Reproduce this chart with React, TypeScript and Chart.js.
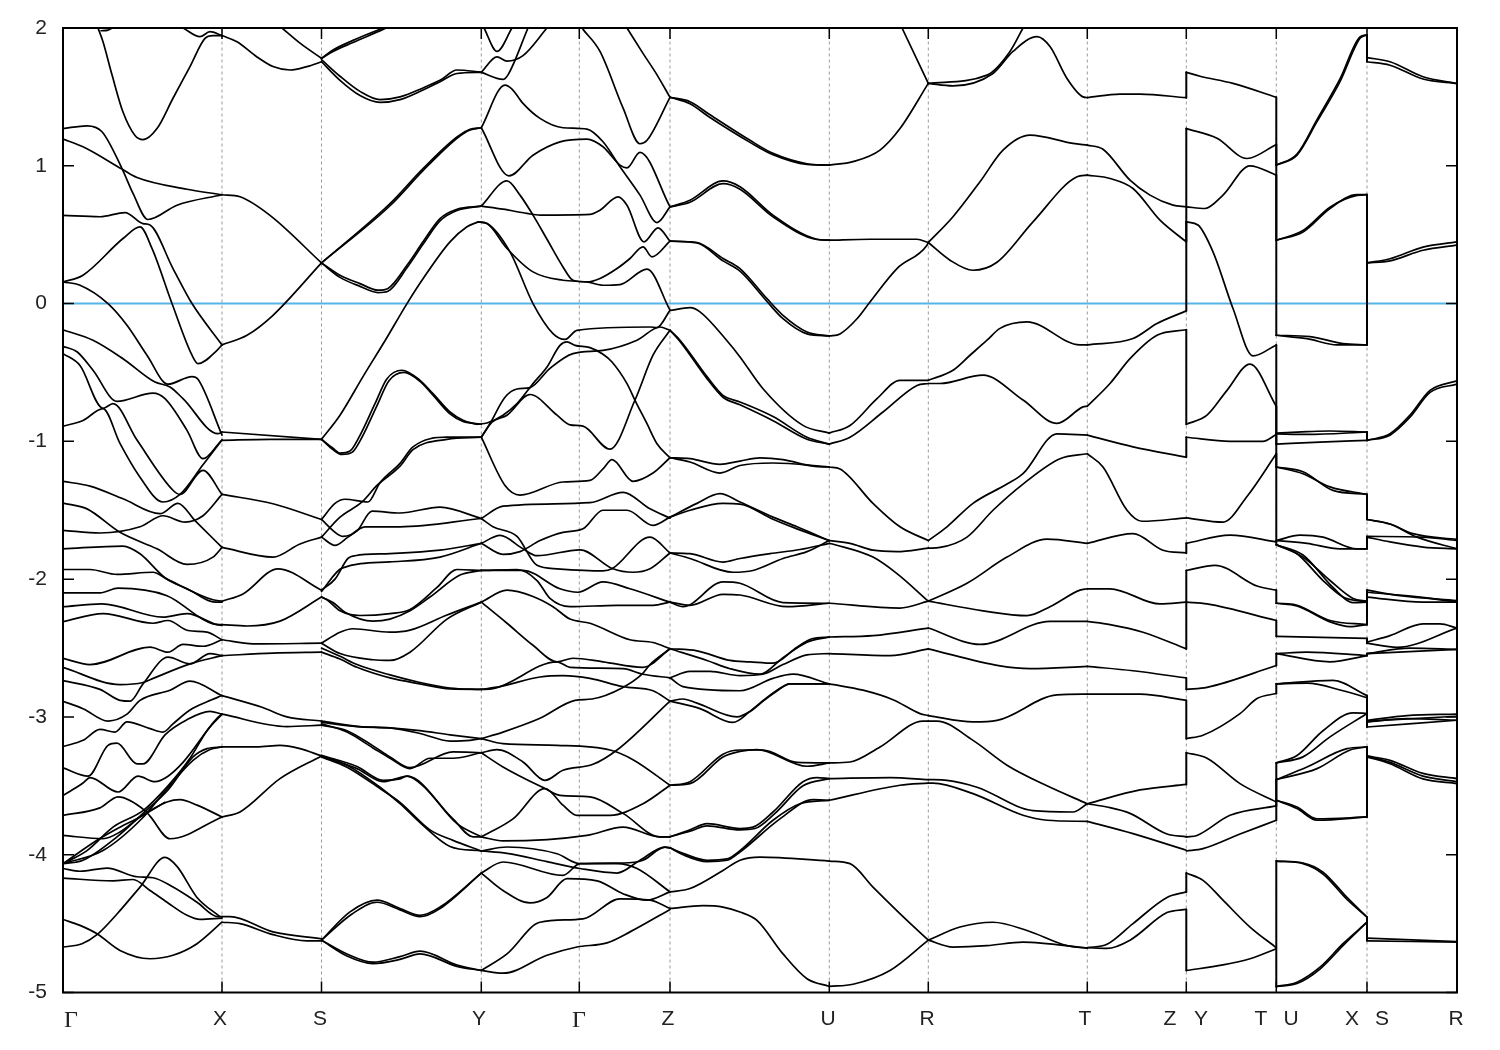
import React, { useEffect, useRef } from "react";
import { Chart, registerables } from "chart.js";

Chart.register(...registerables);

// Every curve is a flat list: pathPosition, energy, pathPosition, energy ...
const pathMin = 63;
const pathMax = 1457;
const energyMin = -5;
const energyMax = 2;

const symmetryPoints = [222, 321.5, 481.3, 579.3, 670, 829.3, 928.3, 1087.3, 1186.3, 1276.3, 1367];
const labelPositions = [71, 220, 320, 479, 579, 668, 828, 927, 1085, 1170, 1201, 1261, 1291, 1352, 1382, 1456];
const labelNames = ["Γ", "X", "S", "Y", "Γ", "Z", "U", "R", "T", "Z", "Y", "T", "U", "X", "S", "R"];
const serifLabelIndexes = [0, 4];

const bandsGammaX: number[][] = [
  [98,2,103,1.9,112,1.66,123,1.39,135,1.22,143,1.19,157,1.27,173,1.49,190,1.72,205,1.925,213,1.945,222,1.945],
  [101,1.98,108,1.985,115,2.01],
  [183,2,200,1.937,210,1.973,222,1.945],
  [63,1.27,87,1.29,102,1.247,122,.98,133,.8,148,.61,177,.714,222,.79],
  [63,1.194,83,1.138,122,.976,137,.915,187,.83,222,.79],
  [63,.64,100,.63,125,.66,143,.58,150,.57,173,.254,192,0,222,-.3],
  [63,.157,83,.206,123,.472,140,.557,152,.4,172,0,192,-.375,198,-.436,217,-.34,222,-.3],
  [63,.157,80,.133,108,0,127,-.157,147,-.375,168,-.585,192,-.53,198,-.55,222,-.955],
  [63,-.19,93,-.266,123,-.4,155,-.57,170,-.605,183,-.69,218,-.944,222,-.932],
  [63,-.31,77,-.35,93,-.484,117,-.71,153,-.65,165,-.69,187,-.92,203,-1.126,220,-1.005,222,-.99],
  [63,-.363,80,-.45,103,-.76,113,-.726,137,-.99,173,-1.355,180,-1.385,203,-1.21,222,-1.385],
  [63,-.89,83,-.848,103,-.763,120,-1.015,140,-1.26,163,-1.44,180,-1.385,203,-1.17,222,-.99],
  [63,-1.29,90,-1.325,123,-1.417,160,-1.525,178,-1.45,195,-1.575,222,-1.77],
  [63,-1.448,87,-1.49,120,-1.66,157,-1.78,187,-1.893,213,-1.84,222,-1.77],
  [63,-1.646,100,-1.665,140,-1.62,163,-1.54,185,-1.586,203,-1.54,222,-1.385],
  [63,-1.78,123,-1.76,140,-1.816,165,-1.99,190,-2.08,213,-2.165,222,-2.167],
  [63,-1.93,90,-1.93,117,-1.966,153,-1.95,167,-2,213,-2.15,222,-2.16],
  [63,-2.1,100,-2.1,118,-2.065,167,-2.12,213,-2.325,222,-2.33],
  [63,-2.2,102,-2.18,163,-2.276,187,-2.25,217,-2.33,222,-2.335],
  [63,-2.308,103,-2.25,153,-2.32,168,-2.3,188,-2.373,207,-2.385,222,-2.44],
  [63,-2.575,90,-2.62,150,-2.494,168,-2.53,183,-2.474,203,-2.487,222,-2.44],
  [63,-2.64,120,-2.765,143,-2.75,150,-2.73,190,-2.615,222,-2.555],
  [63,-2.736,100,-2.8,120,-2.88,130,-2.886,143,-2.76,168,-2.566,190,-2.615,210,-2.54,222,-2.555],
  [63,-2.886,83,-2.94,108,-3.03,127,-2.98,140,-2.88,170,-2.806,190,-2.74,222,-2.845],
  [63,-3.215,83,-3.17,100,-3.09,115,-3.11,127,-3.036,150,-3.085,163,-3.11,173,-3.05,190,-2.95,207,-2.89,222,-2.845],
  [63,-3.37,88,-3.43,108,-3.206,117,-3.19,137,-3.34,143,-3.34,165,-3.13,187,-3.02,210,-2.96,222,-2.98],
  [63,-3.57,83,-3.48,90,-3.44,118,-3.545,138,-3.43,155,-3.47,168,-3.43,183,-3.33,217,-3.01,222,-2.98],
  [63,-3.714,100,-3.66,118,-3.58,145,-3.68,150,-3.72,170,-3.884,222,-3.726],
  [63,-3.86,103,-3.884,120,-3.835,140,-3.726,167,-3.617,180,-3.6,197,-3.64,222,-3.726],
  [63,-4.065,103,-3.97,143,-3.73,163,-3.557,193,-3.315,210,-3.237,222,-3.218],
  [63,-4.065,83,-4.04,117,-3.87,143,-3.7,168,-3.53,193,-3.29,207,-3.23,222,-3.218],
  [63,-4.065,87,-3.97,113,-3.8,143,-3.68,168,-3.5,190,-3.3,207,-3.1,222,-2.98],
  [63,-4.065,97,-3.895,120,-3.8,140,-3.726,165,-3.62],
  [63,-4.1,80,-4.12,107,-4.097,137,-4.16,153,-4.167,173,-4.235,197,-4.345,218,-4.45,222,-4.45],
  [63,-4.17,113,-4.19,133,-4.18,150,-4.26,167,-4.345,187,-4.44,200,-4.47,222,-4.46],
  [63,-4.47,80,-4.513,97,-4.574,120,-4.695,150,-4.755,173,-4.73,197,-4.646,222,-4.49],
  [63,-4.67,82,-4.646,97,-4.58,117,-4.43,140,-4.235,165,-4.02,177,-4.085,197,-4.31,220,-4.45],
];

const bandsXS: number[][] = [
  [222,1.945,237,1.9,257,1.79,273,1.72,290,1.695,307,1.72,321.5,1.755],
  [282,2,300,1.89,321.5,1.78],
  [222,.79,240,.775,270,.64,321.5,.295],
  [222,-.3,247,-.23,273,-.085,321.5,.295],
  [222,-.932,321.5,-.985],
  [222,-.993,270,-.985,321.5,-.985],
  [222,-1.385,273,-1.453,321.5,-1.567],
  [222,-1.77,273,-1.84,300,-1.745,321.5,-1.695],
  [222,-2.16,243,-2.107,278,-1.925,321.5,-2.08],
  [222,-2.33,247,-2.34,280,-2.305,321.5,-2.13],
  [222,-2.44,253,-2.47,321.5,-2.465],
  [222,-2.555,273,-2.537,321.5,-2.53],
  [222,-2.845,262,-2.93,287,-3,321.5,-3.03],
  [222,-2.98,287,-3.07,321.5,-3.06],
  [222,-3.218,257,-3.218,280,-3.206,300,-3.23,321.5,-3.283],
  [222,-3.726,240,-3.69,280,-3.448,321.5,-3.283],
  [222,-4.45,230,-4.45,273,-4.56,321.5,-4.61],
  [222,-4.49,240,-4.5,273,-4.58,307,-4.625,321.5,-4.625],
];

const bandsSY: number[][] = [
  [321.5,1.78,333,1.84,353,1.91,383,2],
  [321.5,1.78,333,1.83,353,1.895,383,1.99,395,2.03],
  [321.5,1.77,340,1.65,360,1.54,380,1.48,400,1.5,423,1.565,440,1.62,457,1.695,481.3,1.68],
  [321.5,1.755,340,1.62,360,1.51,380,1.46,400,1.48,423,1.55,440,1.61,457,1.67,481.3,1.678],
  [321.5,.295,390,.726,423,.98,457,1.21,470,1.264,481.3,1.276],
  [321.5,.295,390,.71,423,.965,457,1.2,470,1.26,481.3,1.276],
  [321.5,.295,340,.206,360,.145,378,.097,388,.11,407,.278,423,.448,440,.617,457,.685,481.3,.707],
  [321.5,.295,340,.19,360,.125,378,.08,388,.09,407,.26,423,.43,440,.6,457,.675,481.3,.707],
  [321.5,-.985,340,-.81,363,-.53,385,-.27,407,0,423,.18,450,.448,467,.557,478,.593],
  [321.5,-.985,333,-1.05,340,-1.085,350,-1.07,360,-.956,375,-.726,387,-.545,402,-.484,420,-.557,433,-.654,450,-.787,463,-.847,477,-.876],
  [321.5,-.985,333,-1.06,342,-1.095,352,-1.08,362,-.97,377,-.74,389,-.56,404,-.5,420,-.565,433,-.665,450,-.8,463,-.855,481.3,-.876],
  [321.5,-1.567,335,-1.45,345,-1.42,368,-1.44,380,-1.3,400,-1.16,413,-1.04,447,-.97,481.3,-.97],
  [321.5,-1.695,340,-1.55,362,-1.44,377,-1.32,400,-1.18,413,-1.06,447,-.985,481.3,-.97],
  [321.5,-1.567,335,-1.66,343,-1.69,357,-1.65,372,-1.506,400,-1.52,440,-1.477,481.3,-1.56],
  [321.5,-1.695,335,-1.755,348,-1.695,365,-1.62,400,-1.62,481.3,-1.56],
  [321.5,-2.08,335,-2,348,-1.85,355,-1.83,390,-1.815,440,-1.79,481.3,-1.74],
  [321.5,-2.09,342,-1.92,390,-1.875,440,-1.84,481.3,-1.74],
  [321.5,-2.13,327,-2.15,340,-2.23,360,-2.264,390,-2.25,410,-2.22,437,-2.06,457,-1.93,481.3,-1.937],
  [321.5,-2.13,333,-2.17,345,-2.24,373,-2.305,390,-2.29,410,-2.23,430,-2.13,460,-1.97,481.3,-1.937],
  [321.5,-2.465,340,-2.385,353,-2.36,390,-2.385,410,-2.37,447,-2.26,481.3,-2.167],
  [321.5,-2.465,340,-2.54,373,-2.585,390,-2.59,410,-2.53,447,-2.29,481.3,-2.167],
  [321.5,-2.53,340,-2.58,357,-2.64,390,-2.717,420,-2.76,450,-2.797,481.3,-2.8],
  [321.5,-2.5,340,-2.56,357,-2.62,390,-2.695,420,-2.75,450,-2.79,481.3,-2.8],
  [321.5,-3.04,357,-3.07,390,-3.08,420,-3.1,450,-3.13,481.3,-3.157],
  [321.5,-3.03,360,-3.07,390,-3.08,420,-3.12,450,-3.175,470,-3.17,481.3,-3.157],
  [321.5,-3.06,347,-3.1,373,-3.21,390,-3.29,410,-3.368,453,-3.254,481.3,-3.26],
  [321.5,-3.05,347,-3.11,373,-3.225,390,-3.3,410,-3.375,430,-3.3,453,-3.3,481.3,-3.26],
  [321.5,-3.278,357,-3.36,383,-3.46,400,-3.45,407,-3.43,423,-3.5,457,-3.775,481.3,-3.87],
  [321.5,-3.283,357,-3.375,383,-3.47,400,-3.44,407,-3.43,453,-3.74,473,-3.87,481.3,-3.87],
  [321.5,-3.283,347,-3.35,380,-3.51,400,-3.63,423,-3.787,450,-3.94,481.3,-3.973],
  [321.5,-3.29,347,-3.365,380,-3.52,400,-3.62,430,-3.82,453,-3.896,481.3,-3.973],
  [321.5,-4.62,350,-4.415,377,-4.33,400,-4.39,420,-4.44,440,-4.38,481.3,-4.133],
  [321.5,-4.62,352,-4.43,377,-4.345,400,-4.4,420,-4.45,440,-4.39,481.3,-4.133],
  [321.5,-4.62,347,-4.72,373,-4.78,400,-4.74,420,-4.7,457,-4.8,481.3,-4.84],
  [321.5,-4.62,347,-4.735,373,-4.79,400,-4.76,420,-4.72,457,-4.81,481.3,-4.84],
];

const bandsYGammaZ: number[][] = [
  [481.3,1.678,497,1.79,507,1.76,523,1.8,547,2],
  [481.3,1.678,503,1.627,508,1.66,528,2],
  [484,2,497,1.83,512,2],
  [583,1.99,600,1.83,623,1.42,640,1.16,647,1.185,670,1.497],
  [627,2,643,1.816,657,1.66,670,1.497],
  [481.3,1.276,505,1.586,512,1.557,523,1.453,540,1.344,563,1.276,587,1.266,603,1.174,620,.993,640,.787,657,.588,670,.702],
  [481.3,1.276,509,.927,533,1.077,560,1.174,587,1.194,603,1.138,620,1.005,627,.985,640,1.097,670,.702],
  [481.3,.707,507,.891,520,.787,533,.642,547,.467,563,.266,573,.169,587,.157,600,.182,617,.254,630,.327,643,.412,652,.339,670,.453],
  [481.3,.707,503,.685,527,.654,540,.642,590,.647,600,.678,618,.775,627,.714,644,.448,658,.55,670,.453],
  [478,.593,487,.581,507,.4,533,.23,563,.169,587,.157,603,.133,620,.138,647,.25,670,-.048],
  [478,.593,487,.581,510,.375,533,0,553,-.218,565,-.26,577,-.194,650,-.17,657,-.174,670,-.048],
  [477,-.876,487,-.867,503,-.81,517,-.726,533,-.581,547,-.46,560,-.303,567,-.278,575,-.303,590,-.32,603,-.368,612,-.424,627,-.581,635,-.702,647,-.872,657,-1.017,670,-1.119],
  [481.3,-.97,492,-.86,507,-.81,530,-.66,557,-.81,570,-.88,583,-.89,610,-1.057,635,-.7,653,-.375,670,-.194],
  [481.3,-.97,490,-.87,505,-.68,517,-.62,530,-.61,550,-.47,573,-.363,603,-.34,637,-.266,660,-.17,670,-.194],
  [481.3,-.97,505,-1.32,520,-1.39,563,-1.295,590,-1.283,603,-1.2,612,-1.133,633,-1.29,653,-1.23,670,-1.119],
  [481.3,-1.56,503,-1.47,590,-1.445,623,-1.37,650,-1.49,670,-1.557],
  [481.3,-1.56,493,-1.62,517,-1.69,537,-1.9,557,-1.925,603,-1.94,612,-1.925,650,-1.695,670,-1.81],
  [481.3,-1.74,500,-1.683,523,-1.78,537,-1.83,580,-1.787,613,-1.925,633,-1.95,650,-1.925,670,-1.81],
  [481.3,-1.74,503,-1.82,520,-1.8,540,-1.72,563,-1.66,583,-1.635,603,-1.5,627,-1.5,653,-1.61,670,-1.55],
  [481.3,-1.937,517,-1.93,537,-2.01,550,-2.14,570,-2.2,617,-2.19,653,-2.19,670,-2.167],
  [481.3,-1.937,523,-1.937,560,-2.07,578,-2.095,603,-2.02,630,-2.07,670,-2.167],
  [481.3,-2.167,507,-2.08,533,-2.126,553,-2.2,570,-2.29,590,-2.32,630,-2.44,653,-2.46,670,-2.505],
  [481.3,-2.167,507,-2.32,533,-2.48,557,-2.6,573,-2.574,603,-2.6,643,-2.64,670,-2.505],
  [481.3,-2.8,493,-2.795,557,-2.6,570,-2.64,623,-2.65,643,-2.69,670,-2.716],
  [481.3,-2.8,500,-2.78,540,-2.71,563,-2.7,590,-2.72,623,-2.78,653,-2.81,670,-2.885],
  [481.3,-3.157,503,-3.11,540,-3.01,575,-2.88,592,-2.87,622,-2.79,642,-2.69,650,-2.62,670,-2.505],
  [481.3,-3.157,503,-3.194,557,-3.206,610,-3.24,633,-3.31,670,-3.496],
  [481.3,-3.26,497,-3.237,523,-3.327,545,-3.46,563,-3.387,593,-3.344,617,-3.24,670,-2.885],
  [481.3,-3.26,503,-3.363,545,-3.52,560,-3.57,590,-3.58,623,-3.7,660,-3.87,670,-3.87],
  [481.3,-3.87,513,-3.74,545,-3.52,563,-3.64,577,-3.714,610,-3.714,643,-3.63,670,-3.496],
  [481.3,-3.87,503,-3.9,587,-3.86,623,-3.8,660,-3.87,670,-3.87],
  [481.3,-3.973,507,-3.944,557,-3.993,580,-4.065,617,-4.065,637,-4.1,670,-4.27],
  [481.3,-3.973,507,-3.99,547,-4.05,580,-4.1,617,-4.133,640,-4.04,665,-3.945,670,-3.95],
  [481.3,-4.133,503,-4.053,563,-4.15,580,-4.065,623,-4.06,643,-4.04,665,-3.945,670,-3.95],
  [481.3,-4.133,503,-4.26,530,-4.35,547,-4.31,567,-4.174,597,-4.19,623,-4.283,647,-4.33,670,-4.27],
  [481.3,-4.84,507,-4.72,540,-4.49,583,-4.465,620,-4.32,650,-4.33,670,-4.39],
  [481.3,-4.84,503,-4.86,547,-4.73,577,-4.67,607,-4.64,630,-4.56,670,-4.397],
];

const bandsZU: number[][] = [
  [670,1.497,690,1.465,710,1.37,750,1.185,773,1.09,807,1.015,829.3,1.005],
  [670,1.497,690,1.45,710,1.35,750,1.17,773,1.08,807,1.01,829.3,1.005],
  [670,.702,690,.75,723,.89,740,.848,773,.642,817,.467,829.3,.46],
  [670,.702,690,.735,723,.87,740,.83,773,.63,817,.465,829.3,.46],
  [670,.453,697,.443,723,.327,740,.254,767,.036,783,-.085,807,-.206,829.3,-.235],
  [670,.453,697,.44,723,.31,740,.235,767,.015,783,-.11,807,-.22,829.3,-.235],
  [670,-.05,690,-.03,700,-.06,727,-.27,740,-.387,763,-.618,803,-.884,829.3,-.94],
  [670,-.194,680,-.266,707,-.53,723,-.666,740,-.714,773,-.82,807,-.97,829.3,-1.02],
  [670,-.194,680,-.275,707,-.545,723,-.68,740,-.735,773,-.85,807,-.985,829.3,-1.02],
  [670,-1.119,690,-1.126,720,-1.167,740,-1.143,760,-1.12,783,-1.133,813,-1.18,829.3,-1.186],
  [670,-1.119,690,-1.15,720,-1.23,740,-1.175,773,-1.157,829.3,-1.186],
  [670,-1.55,697,-1.45,720,-1.38,740,-1.44,773,-1.55,797,-1.62,829.3,-1.72],
  [670,-1.55,690,-1.5,723,-1.45,740,-1.455,773,-1.565,797,-1.635,829.3,-1.72],
  [670,-1.81,690,-1.815,723,-1.876,740,-1.85,770,-1.815,800,-1.785,829.3,-1.74],
  [670,-1.81,690,-1.85,733,-1.95,753,-1.937,783,-1.85,807,-1.8,829.3,-1.72],
  [670,-2.167,683,-2.2,723,-2.02,740,-2.03,783,-2.17,829.3,-2.175],
  [670,-2.167,690,-2.19,723,-2.11,740,-2.115,787,-2.2,829.3,-2.175],
  [670,-2.505,697,-2.52,730,-2.59,750,-2.6,773,-2.61,797,-2.494,812,-2.433,829.3,-2.42],
  [670,-2.505,707,-2.59,730,-2.65,760,-2.69,783,-2.57,807,-2.457,829.3,-2.42],
  [670,-2.716,690,-2.67,710,-2.67,740,-2.7,763,-2.69,783,-2.62,807,-2.55,829.3,-2.54],
  [670,-2.716,683,-2.78,740,-2.81,773,-2.72,793,-2.69,829.3,-2.76],
  [670,-2.885,683,-2.87,697,-2.9,737,-3,750,-2.96,764,-2.88,778,-2.806,790,-2.76,829.3,-2.76],
  [670,-2.885,700,-2.94,733,-3.04,750,-2.96,760,-2.9,777,-2.806,790,-2.76,829.3,-2.76],
  [670,-3.496,690,-3.484,723,-3.29,740,-3.25,757,-3.237,807,-3.358,829.3,-3.334],
  [670,-3.496,690,-3.47,723,-3.27,740,-3.24,763,-3.24,797,-3.33,829.3,-3.334],
  [670,-3.87,690,-3.82,707,-3.775,740,-3.81,753,-3.8,773,-3.69,803,-3.47,817,-3.44,829.3,-3.448],
  [670,-3.87,690,-3.83,707,-3.79,740,-3.82,755,-3.81,775,-3.7,803,-3.5,829.3,-3.448],
  [670,-3.95,683,-3.99,707,-4.04,727,-4.03,740,-3.97,773,-3.75,800,-3.63,829.3,-3.605],
  [670,-3.95,683,-4,707,-4.05,727,-4.04,740,-3.98,780,-3.74,813,-3.6,829.3,-3.605],
  [670,-4.27,690,-4.245,723,-4.114,740,-4.04,760,-4.017,829.3,-4.046],
  [670,-4.39,703,-4.37,723,-4.38,740,-4.416,757,-4.477,783,-4.72,807,-4.9,829.3,-4.956],
];

const bandsUR: number[][] = [
  [829.3,1.005,853,1.03,880,1.114,900,1.27,928.3,1.598],
  [902,2,928.3,1.598],
  [829.3,.46,870,.467,917,.467,928.3,.443],
  [829.3,-.235,840,-.22,857,-.11,870,.012,897,.254,927,.424,928.3,.443],
  [829.3,-.94,850,-.885,877,-.69,900,-.557,928.3,-.557],
  [829.3,-1.02,850,-.97,883,-.787,917,-.594,928.3,-.58],
  [829.3,-1.186,840,-1.2,873,-1.45,900,-1.62,928.3,-1.72],
  [829.3,-1.72,850,-1.74,873,-1.79,897,-1.8,928.3,-1.775],
  [829.3,-1.74,835,-1.75,873,-1.84,897,-1.96,928.3,-2.16],
  [829.3,-2.175,900,-2.21,928.3,-2.16],
  [829.3,-2.42,873,-2.41,928.3,-2.355],
  [829.3,-2.54,890,-2.555,928.3,-2.506],
  [829.3,-2.76,863,-2.806,893,-2.875,920,-2.976,928.3,-2.99],
  [829.3,-3.334,850,-3.327,880,-3.218,923,-3.03,928.3,-3.03],
  [829.3,-3.448,890,-3.44,928.3,-3.455],
  [829.3,-3.605,900,-3.496,928.3,-3.48],
  [829.3,-4.046,850,-4.065,873,-4.235,907,-4.477,928.3,-4.62],
  [829.3,-4.956,853,-4.94,890,-4.84,928.3,-4.62],
];

const bandsRT: number[][] = [
  [928.3,1.598,987,1.658,1010,1.83,1023,2],
  [928.3,1.598,953,1.58,993,1.67,1013,1.83,1037,1.937,1050,1.865,1067,1.634,1083,1.5,1087.3,1.495],
  [928.3,.443,953,.63,980,.884,1003,1.114,1030,1.223,1073,1.162,1087.3,1.15],
  [928.3,.443,950,.315,973,.242,997,.3,1033,.593,1077,.92,1087.3,.932],
  [928.3,-.557,953,-.484,970,-.375,987,-.266,1000,-.18,1027,-.133,1080,-.3,1087.3,-.3],
  [928.3,-.58,940,-.58,983,-.52,1023,-.7,1057,-.87,1083,-.75,1087.3,-.745],
  [928.3,-1.72,947,-1.62,973,-1.45,1007,-1.31,1023,-1.235,1057,-.945,1087.3,-.955],
  [928.3,-1.775,940,-1.77,967,-1.695,993,-1.5,1023,-1.31,1060,-1.126,1087.3,-1.09],
  [928.3,-2.16,967,-2.03,1007,-1.84,1047,-1.71,1087.3,-1.74],
  [928.3,-2.16,983,-2.23,1027,-2.265,1050,-2.2,1080,-2.08,1087.3,-2.07],
  [928.3,-2.355,980,-2.474,1050,-2.307,1087.3,-2.307],
  [928.3,-2.506,1000,-2.63,1030,-2.65,1087.3,-2.633],
  [928.3,-2.99,973,-3.036,997,-3.025,1057,-2.84,1087.3,-2.835],
  [928.3,-3.03,937,-3.03,973,-3.17,1007,-3.35,1047,-3.5,1087.3,-3.63],
  [928.3,-3.455,947,-3.46,977,-3.51,1033,-3.68,1073,-3.69,1087.3,-3.63],
  [928.3,-3.48,933,-3.48,973,-3.557,1023,-3.714,1047,-3.75,1087.3,-3.758],
  [928.3,-4.62,953,-4.67,987,-4.66,1023,-4.634,1087.3,-4.678],
  [928.3,-4.62,960,-4.525,993,-4.49,1027,-4.55,1067,-4.66,1087.3,-4.678],
];

const bandsTZ: number[][] = [
  [1087.3,1.495,1120,1.52,1140,1.52,1186.3,1.494],
  [1087.3,1.15,1103,1.12,1130,.896,1150,.787,1173,.714,1186.3,.702],
  [1087.3,.932,1110,.908,1133,.835,1160,.605,1186.3,.448],
  [1087.3,-.3,1133,-.254,1157,-.145,1186.3,-.053],
  [1087.3,-.745,1110,-.58,1130,-.4,1157,-.23,1186.3,-.19],
  [1087.3,-.955,1133,-1.04,1186.3,-1.114],
  [1087.3,-1.09,1103,-1.186,1127,-1.5,1142,-1.58,1186.3,-1.555],
  [1087.3,-1.74,1133,-1.67,1163,-1.79,1186.3,-1.81],
  [1087.3,-2.07,1110,-2.07,1160,-2.18,1186.3,-2.167],
  [1087.3,-2.307,1110,-2.33,1143,-2.385,1186.3,-2.506],
  [1087.3,-2.633,1133,-2.665,1186.3,-2.717],
  [1087.3,-2.835,1140,-2.835,1186.3,-2.88],
  [1087.3,-3.63,1140,-3.53,1186.3,-3.49],
  [1087.3,-3.63,1107,-3.654,1130,-3.7,1167,-3.85,1186.3,-3.87],
  [1087.3,-3.758,1133,-3.847,1186.3,-3.968],
  [1087.3,-4.675,1107,-4.65,1133,-4.5,1167,-4.31,1186.3,-4.27],
  [1087.3,-4.675,1107,-4.68,1130,-4.62,1167,-4.42,1186.3,-4.397],
];

const bandsYT: number[][] = [
  [1186.3,1.678,1200,1.65,1233,1.598,1276.3,1.497],
  [1186.3,1.27,1217,1.2,1247,1.053,1276.3,1.155],
  [1186.3,.702,1205,.69,1223,.787,1250,1,1276.3,.932],
  [1186.3,.593,1198,.57,1213,.375,1233,-.036,1253,-.38,1276.3,-.3],
  [1186.3,-.876,1207,-.81,1227,-.63,1250,-.44,1276.3,-.746],
  [1186.3,-.97,1230,-1,1263,-1,1276.3,-.95],
  [1186.3,-1.555,1223,-1.586,1247,-1.4,1276.3,-1.09],
  [1186.3,-1.74,1230,-1.68,1276.3,-1.73],
  [1186.3,-1.937,1215,-1.9,1257,-2.05,1276.3,-2.08],
  [1186.3,-2.167,1207,-2.18,1276.3,-2.3],
  [1186.3,-2.8,1207,-2.785,1276.3,-2.627],
  [1186.3,-3.157,1203,-3.133,1240,-2.976,1257,-2.867,1276.3,-2.83],
  [1186.3,-3.26,1207,-3.3,1240,-3.484,1276.3,-3.617],
  [1186.3,-3.87,1197,-3.86,1230,-3.714,1276.3,-3.646],
  [1186.3,-3.973,1203,-3.956,1240,-3.85,1276.3,-3.75],
  [1186.3,-4.133,1203,-4.186,1223,-4.33,1250,-4.525,1276.3,-4.675],
  [1186.3,-4.84,1223,-4.8,1250,-4.755,1276.3,-4.683],
];

const bandsUX: number[][] = [
  [1276.3,1.005,1297,1.077,1317,1.32,1340,1.61,1360,1.925,1367,1.95],
  [1276.3,1.005,1297,1.085,1317,1.335,1340,1.63,1360,1.935,1367,1.95],
  [1276.3,.46,1303,.52,1330,.69,1357,.79,1367,.79],
  [1276.3,.46,1303,.53,1330,.7,1357,.785,1367,.79],
  [1276.3,-.23,1310,-.24,1343,-.29,1367,-.3],
  [1276.3,-.23,1307,-.255,1337,-.3,1367,-.3],
  [1276.3,-.94,1307,-.93,1330,-.925,1367,-.932],
  [1276.3,-.945,1307,-.95,1367,-.932],
  [1276.3,-1.02,1320,-1.005,1367,-.993],
  [1276.3,-1.186,1303,-1.22,1333,-1.356,1367,-1.385],
  [1276.3,-1.186,1303,-1.235,1330,-1.33,1367,-1.385],
  [1276.3,-1.72,1300,-1.68,1323,-1.695,1357,-1.78,1367,-1.78],
  [1276.3,-1.72,1307,-1.74,1340,-1.78,1367,-1.78],
  [1276.3,-1.75,1297,-1.816,1323,-2.01,1343,-2.13,1367,-2.167],
  [1276.3,-1.75,1303,-1.84,1330,-2.01,1353,-2.14,1367,-2.16],
  [1276.3,-1.75,1303,-1.825,1333,-2.06,1353,-2.17,1367,-2.167],
  [1276.3,-2.175,1297,-2.19,1330,-2.3,1367,-2.33],
  [1276.3,-2.175,1297,-2.195,1330,-2.31,1350,-2.345,1367,-2.33],
  [1276.3,-2.415,1367,-2.43],
  [1276.3,-2.54,1307,-2.53,1367,-2.555],
  [1276.3,-2.54,1330,-2.6,1367,-2.555],
  [1276.3,-2.76,1333,-2.735,1367,-2.845],
  [1276.3,-2.76,1307,-2.755,1343,-2.81,1367,-2.86],
  [1276.3,-3.334,1297,-3.28,1323,-3.1,1353,-2.97,1367,-2.975],
  [1276.3,-3.334,1303,-3.29,1330,-3.145,1367,-2.975],
  [1276.3,-3.455,1307,-3.363,1347,-3.23,1367,-3.218],
  [1276.3,-3.455,1317,-3.375,1350,-3.24,1367,-3.218],
  [1276.3,-3.605,1297,-3.654,1317,-3.74,1367,-3.726],
  [1276.3,-3.605,1297,-3.665,1317,-3.75,1367,-3.726],
  [1276.3,-4.046,1303,-4.06,1323,-4.126,1347,-4.31,1367,-4.453],
  [1276.3,-4.046,1303,-4.065,1323,-4.14,1347,-4.325,1367,-4.453],
  [1276.3,-4.957,1297,-4.925,1320,-4.816,1343,-4.646,1367,-4.49],
  [1276.3,-4.957,1297,-4.935,1320,-4.83,1343,-4.66,1367,-4.49],
];

const bandsSR: number[][] = [
  [1367,1.785,1390,1.755,1423,1.646,1457,1.597],
  [1367,1.755,1390,1.73,1423,1.63,1457,1.597],
  [1367,.295,1390,.325,1423,.41,1457,.448],
  [1367,.295,1390,.31,1423,.387,1457,.424],
  [1367,-.993,1390,-.945,1410,-.81,1430,-.63,1457,-.56],
  [1367,-.993,1390,-.955,1410,-.825,1430,-.645,1457,-.585],
  [1367,-1.567,1390,-1.6,1413,-1.67,1457,-1.712],
  [1367,-1.567,1390,-1.6,1417,-1.695,1457,-1.78],
  [1367,-1.69,1423,-1.695,1457,-1.72],
  [1367,-1.695,1390,-1.73,1423,-1.767,1457,-1.78],
  [1367,-2.08,1400,-2.12,1457,-2.155],
  [1367,-2.095,1420,-2.13,1457,-2.167],
  [1367,-2.13,1423,-2.167,1457,-2.167],
  [1367,-2.457,1390,-2.41,1423,-2.325,1440,-2.325,1457,-2.355],
  [1367,-2.465,1397,-2.495,1457,-2.355],
  [1367,-2.54,1410,-2.5,1457,-2.51],
  [1367,-2.54,1457,-2.51],
  [1367,-3.024,1407,-2.99,1457,-2.98],
  [1367,-3.036,1407,-3.012,1457,-3.024],
  [1367,-3.073,1457,-3.024],
  [1367,-3.03,1457,-2.995],
  [1367,-3.283,1390,-3.315,1423,-3.41,1457,-3.448],
  [1367,-3.29,1390,-3.34,1423,-3.45,1457,-3.484],
  [1367,-3.285,1390,-3.33,1423,-3.43,1457,-3.47],
  [1367,-4.605,1457,-4.63],
  [1367,-4.625,1457,-4.635],
];

// Vertical joins where the path is discontinuous: energy before, energy after.
const breakZY = 1186.3;
const joinsZY = [[1.494,1.678],[.702,1.27],[.448,.702],[-.053,.593],[-.19,-.876],[-1.114,-.97],[-1.81,-1.74],[-2.167,-1.937],[-2.506,-2.167],[-2.717,-2.8],[-2.88,-3.157],[-3.49,-3.26],[-4.27,-4.133],[-4.397,-4.84]];
const breakTU = 1276.3;
const joinsTU = [[1.497,1.005],[1.155,.46],[.932,-.23],[-.3,-.94],[-.746,-1.02],[-.95,-1.186],[-1.09,-1.72],[-1.73,-1.75],[-2.08,-2.175],[-2.3,-2.415],[-2.627,-2.54],[-2.83,-2.76],[-3.617,-3.334],[-3.646,-3.455],[-3.75,-3.605],[-4.046,-4.957]];
const breakXS = 1367;
const joinsXS = [[1.95,1.755],[.79,.295],[.295,-.3],[-.932,-.993],[-1.385,-1.567],[-1.78,-1.69],[-2.167,-2.08],[-2.33,-2.13],[-2.43,-2.465],[-2.555,-2.54],[-2.845,-3.03],[-2.975,-3.073],[-3.218,-3.726],[-4.453,-4.625]];

const allBands = [...bandsGammaX, ...bandsXS, ...bandsSY, ...bandsYGammaZ, ...bandsZU, ...bandsUR, ...bandsRT, ...bandsTZ, ...bandsYT, ...bandsUX, ...bandsSR];

const toPoints = (flat: number[]) => {
  const pts: { x: number; y: number }[] = [];
  for (let i = 0; i < flat.length; i += 2) pts.push({ x: flat[i], y: flat[i + 1] });
  return pts;
};

const framePlugin = {
  id: "frame",
  afterDatasetsDraw(chart: any) {
    const { ctx, chartArea: a, scales } = chart;
    ctx.save();
    ctx.strokeStyle = "#000";
    ctx.lineWidth = 1.5;
    ctx.beginPath();
    for (const p of symmetryPoints) {
      const x = scales.x.getPixelForValue(p);
      ctx.moveTo(x, a.bottom);
      ctx.lineTo(x, a.bottom - 11);
      ctx.moveTo(x, a.top);
      ctx.lineTo(x, a.top + 11);
    }
    for (let v = energyMin; v <= energyMax; v++) {
      const y = scales.y.getPixelForValue(v);
      ctx.moveTo(a.left, y);
      ctx.lineTo(a.left + 11, y);
      ctx.moveTo(a.right, y);
      ctx.lineTo(a.right - 11, y);
    }
    ctx.stroke();
    ctx.lineWidth = 2;
    ctx.strokeRect(a.left, a.top, a.right - a.left, a.bottom - a.top);
    ctx.restore();
  },
};

export default function App() {
  const ref = useRef<HTMLCanvasElement | null>(null);
  useEffect(() => {
    const black = { borderColor: "#000", borderWidth: 1.7, pointRadius: 0, fill: false, borderJoinStyle: "round", borderCapStyle: "round" };
    const datasets: any[] = [];
    for (const p of symmetryPoints) {
      datasets.push({ data: [{ x: p, y: energyMin }, { x: p, y: energyMax }], borderColor: "#999", borderWidth: 1, borderDash: [3, 3], pointRadius: 0, order: 30 });
    }
    datasets.push({ data: [{ x: pathMin, y: 0 }, { x: pathMax, y: 0 }], borderColor: "#56b4e9", borderWidth: 2, pointRadius: 0, order: 20 });
    for (const b of allBands) {
      datasets.push({ ...black, data: toPoints(b), cubicInterpolationMode: "monotone", order: 1 });
    }
    const joins: [number, number[][]][] = [[breakZY, joinsZY], [breakTU, joinsTU], [breakXS, joinsXS]];
    for (const [x, pairs] of joins) {
      for (const [a, b] of pairs) {
        datasets.push({ ...black, borderWidth: 2, data: [{ x, y: a }, { x, y: b }], order: 1 });
      }
    }
    const chart = new Chart(ref.current as HTMLCanvasElement, {
      type: "line",
      data: { datasets },
      options: {
        animation: false,
        responsive: false,
        layout: { padding: { left: 0, right: 43, top: 28, bottom: 0 } },
        plugins: { legend: { display: false }, tooltip: { enabled: false } },
        scales: {
          x: {
            type: "linear",
            min: pathMin,
            max: pathMax,
            grid: { display: false },
            border: { display: false },
            afterBuildTicks: (axis: any) => {
              axis.ticks = labelPositions.map((value) => ({ value }));
            },
            afterFit: (axis: any) => {
              axis.height = 57.5;
            },
            ticks: {
              autoSkip: false,
              maxRotation: 0,
              minRotation: 0,
              padding: 6,
              color: "#222",
              font: (ctx: any) => serifLabelIndexes.includes(ctx.index)
                ? { family: "'Liberation Serif'", size: 24 }
                : { family: "'Liberation Sans'", size: 21 },
              callback: (_v: any, i: number) => labelNames[i],
            },
          },
          y: {
            type: "linear",
            min: energyMin,
            max: energyMax,
            grid: { display: false },
            border: { display: false },
            afterFit: (axis: any) => {
              axis.width = 63;
            },
            ticks: {
              stepSize: 1,
              padding: 8,
              color: "#222",
              font: { family: "'Liberation Sans'", size: 21 },
            },
          },
        },
      } as any,
      plugins: [framePlugin],
    } as any);
    return () => chart.destroy();
  }, []);
  return (
    <div style={{ position: "absolute", left: 0, top: 0 }}>
      <canvas ref={ref} width={1500} height={1050} style={{ display: "block" }} />
    </div>
  );
}
